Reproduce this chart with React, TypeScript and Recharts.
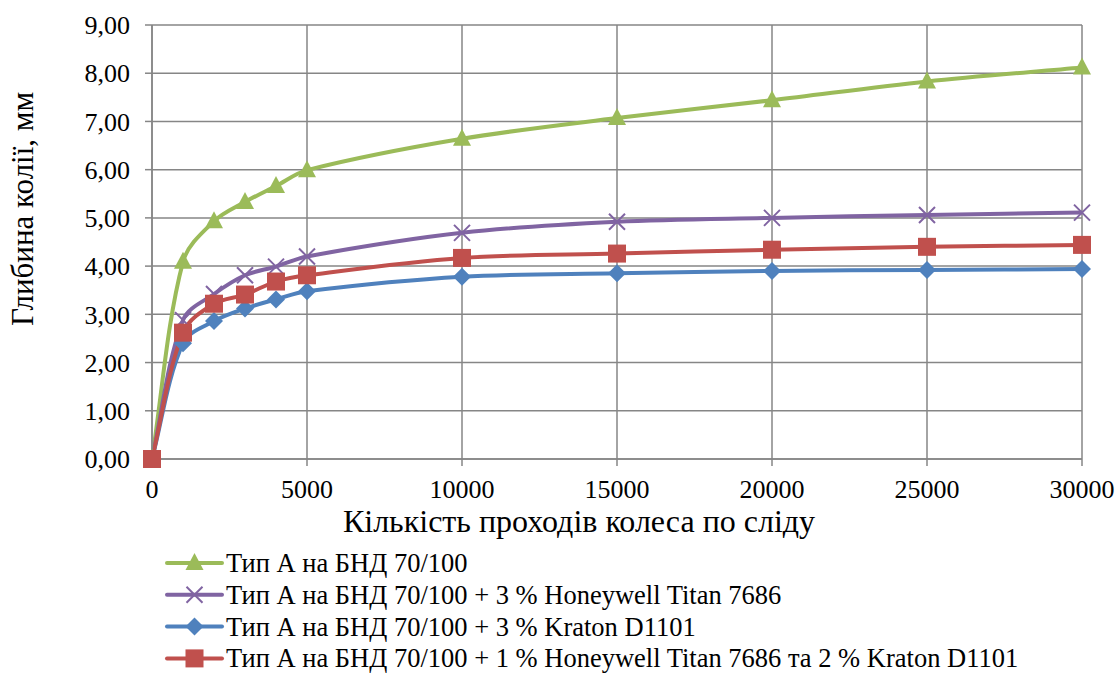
import React from 'react';
import { LineChart, Line, XAxis, YAxis, CartesianGrid, Legend, Label } from 'recharts';

const passes = [0, 1000, 2000, 3000, 4000, 5000, 10000, 15000, 20000, 25000, 30000];
const typeA = [0, 4.09, 4.93, 5.33, 5.66, 5.99, 6.64, 7.07, 7.44, 7.83, 8.12];
const honeywell = [0, 2.88, 3.42, 3.81, 3.99, 4.2, 4.69, 4.92, 5.0, 5.06, 5.11];
const kraton = [0, 2.4, 2.86, 3.12, 3.31, 3.48, 3.78, 3.85, 3.9, 3.92, 3.94];
const combo = [0, 2.62, 3.22, 3.41, 3.68, 3.81, 4.17, 4.26, 4.34, 4.4, 4.44];
const xTicks = [0, 5000, 10000, 15000, 20000, 25000, 30000];
const yTicks = [0, 1, 2, 3, 4, 5, 6, 7, 8, 9];

const seriesNames = [
  'Тип А на БНД 70/100',
  'Тип А на БНД 70/100 + 3 % Honeywell Titan 7686',
  'Тип А на БНД 70/100 + 3 % Kraton D1101',
  'Тип А на БНД 70/100 + 1 % Honeywell Titan 7686 та 2 % Kraton D1101',
];

const GREEN = '#9BBB59';
const PURPLE = '#8064A2';
const BLUE = '#4F81BD';
const RED = '#C0504D';
const GRID = '#868686';
const FONT = "'Liberation Serif', 'Times New Roman', serif";

const data = passes.map((p, i) => ({
  x: p,
  a: typeA[i],
  h: honeywell[i],
  k: kraton[i],
  c: combo[i],
}));

// Smoothed line: tangent direction from neighbours, handle length from segment length
const smoothCurve = (context: any) => {
  let pts: number[][] = [];
  const dirAt = (i: number) => {
    const a = pts[Math.max(0, i - 1)];
    const b = pts[Math.min(pts.length - 1, i + 1)];
    const dx = b[0] - a[0];
    const dy = b[1] - a[1];
    const len = Math.hypot(dx, dy) || 1;
    return [dx / len, dy / len];
  };
  return {
    areaStart() {},
    areaEnd() {},
    lineStart() {
      pts = [];
    },
    point(x: number, y: number) {
      pts.push([+x, +y]);
    },
    lineEnd() {
      const n = pts.length;
      if (!n) return;
      context.moveTo(pts[0][0], pts[0][1]);
      for (let i = 0; i < n - 1; i++) {
        const p1 = pts[i];
        const p2 = pts[i + 1];
        const seg = Math.hypot(p2[0] - p1[0], p2[1] - p1[1]);
        const d1 = dirAt(i);
        const d2 = dirAt(i + 1);
        const h = seg * 0.33;
        context.bezierCurveTo(
          p1[0] + d1[0] * h,
          p1[1] + d1[1] * h,
          p2[0] - d2[0] * h,
          p2[1] - d2[1] * h,
          p2[0],
          p2[1]
        );
      }
    },
  };
};

const triangle = (cx: number, cy: number, key?: any) => (
  <path key={key} d={`M${cx},${cy - 10} L${cx + 9},${cy + 7} L${cx - 9},${cy + 7} Z`} fill={GREEN} />
);
const cross = (cx: number, cy: number, key?: any) => (
  <path key={key} d={`M${cx - 8},${cy - 8} L${cx + 8},${cy + 8} M${cx - 8},${cy + 8} L${cx + 8},${cy - 8}`} stroke={PURPLE} strokeWidth={2} fill="none" />
);
const diamond = (cx: number, cy: number, key?: any) => (
  <path key={key} d={`M${cx},${cy - 9} L${cx + 9},${cy} L${cx},${cy + 9} L${cx - 9},${cy} Z`} fill={BLUE} />
);
const square = (cx: number, cy: number, key?: any) => (
  <rect key={key} x={cx - 9} y={cy - 9} width={18} height={18} fill={RED} />
);

const makeDot = (fn: any) => (props: any) => {
  const { cx, cy, index } = props;
  if (cx == null || cy == null) return <g key={index} />;
  return fn(cx, cy, index);
};

const legendItems = [
  { name: seriesNames[0], color: GREEN, marker: triangle },
  { name: seriesNames[1], color: PURPLE, marker: cross },
  { name: seriesNames[2], color: BLUE, marker: diamond },
  { name: seriesNames[3], color: RED, marker: square },
];

const LegendContent = () => (
  <svg width={900} height={134} style={{ display: 'block', overflow: 'visible' }}>
    {legendItems.map((it, i) => {
      const cy = 24 + i * 31.8;
      return (
        <g key={it.name}>
          <line x1={2} y1={cy} x2={57} y2={cy} stroke={it.color} strokeWidth={4} strokeLinecap="round" />
          {it.marker(29.5, cy)}
          <text x={61} y={cy} dy="0.34em" fontSize={26.5} fontFamily={FONT} fill="#000">
            {it.name}
          </text>
        </g>
      );
    })}
  </svg>
);

const fmt = (v: number) => v.toFixed(2).replace('.', ',');

export default function App() {
  return (
    <div style={{ position: 'absolute', left: 0, top: 0, width: 1120, height: 673, background: '#fff' }}>
      <LineChart
        width={1120}
        height={673}
        data={data}
        margin={{ top: 25, right: 38, bottom: 0, left: 0 }}
        style={{ fontFamily: FONT }}
      >
        <CartesianGrid stroke={GRID} strokeWidth={1.5} />
        <XAxis
          dataKey="x"
          type="number"
          domain={[0, 30000]}
          ticks={xTicks}
          height={80}
          stroke={GRID}
          strokeWidth={1.5}
          tickSize={7}
          tickMargin={14}
          tick={{ fill: '#000', fontSize: 26, fontFamily: FONT }}
        >
          <Label
            value="Кількість проходів колеса по сліду"
            position="insideBottom"
            offset={7}
            dx={-38}
            style={{ fill: '#000', fontSize: 32, fontFamily: FONT }}
          />
        </XAxis>
        <YAxis
          type="number"
          domain={[0, 9]}
          ticks={yTicks}
          width={152}
          stroke={GRID}
          strokeWidth={1.5}
          tickSize={7}
          tickMargin={15}
          tickFormatter={fmt}
          tick={{ fill: '#000', fontSize: 26, fontFamily: FONT }}
        >
          <Label
            value="Глибина колії, мм"
            position="center"
            angle={-90}
            dx={-54}
            dy={-33}
            style={{ fill: '#000', fontSize: 31, fontFamily: FONT, textAnchor: 'middle' }}
          />
        </YAxis>
        <Legend
          verticalAlign="bottom"
          align="left"
          height={134}
          content={LegendContent}
          wrapperStyle={{ left: 165 }}
        />
        <Line type={smoothCurve as any} dataKey="a" name={seriesNames[0]} stroke={GREEN} strokeWidth={4} dot={makeDot(triangle)} activeDot={false} isAnimationActive={false} />
        <Line type={smoothCurve as any} dataKey="h" name={seriesNames[1]} stroke={PURPLE} strokeWidth={4} dot={makeDot(cross)} activeDot={false} isAnimationActive={false} />
        <Line type={smoothCurve as any} dataKey="k" name={seriesNames[2]} stroke={BLUE} strokeWidth={4} dot={makeDot(diamond)} activeDot={false} isAnimationActive={false} />
        <Line type={smoothCurve as any} dataKey="c" name={seriesNames[3]} stroke={RED} strokeWidth={4} dot={makeDot(square)} activeDot={false} isAnimationActive={false} />
      </LineChart>
    </div>
  );
}
